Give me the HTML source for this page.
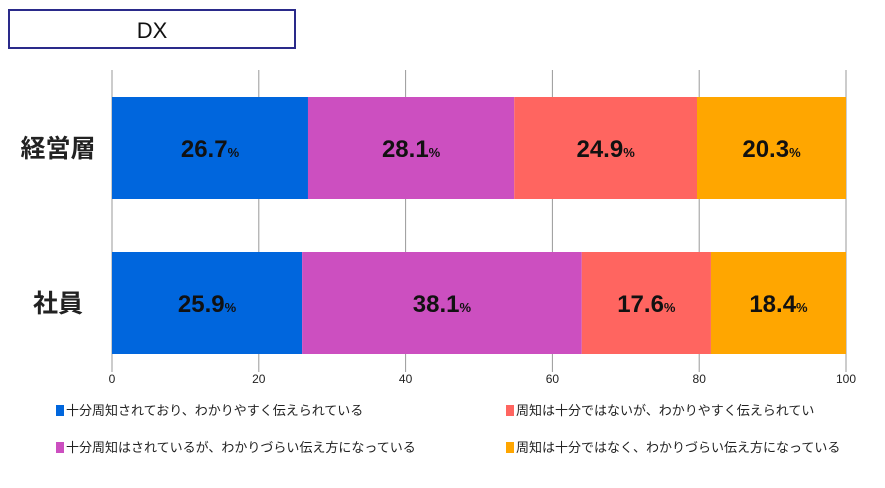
<!DOCTYPE html>
<html><head><meta charset="utf-8"><style>
body{margin:0;background:#fff;width:885px;height:483px;overflow:hidden;font-family:"Liberation Sans","Noto Sans CJK JP",sans-serif}
</style></head><body>
<svg width="885" height="483" id="c">
<rect x="9" y="10" width="286" height="38" fill="#fff" stroke="#2a2a8a" stroke-width="2"/>
<text x="152" y="38" text-anchor="middle" font-size="22" fill="#111">DX</text>
</svg>
<script>
const categories=["経営層","社員"];
const s1=[26.7,25.9];
const s2=[28.1,38.1];
const s3=[24.9,17.6];
const s4=[20.3,18.4];
const ticks=[0,20,40,60,80,100];
const seriesNames=["十分周知されており、わかりやすく伝えられている","十分周知はされているが、わかりづらい伝え方になっている","周知は十分ではないが、わかりやすく伝えられてい","周知は十分ではなく、わかりづらい伝え方になっている"];
const colors=["#0066dd","#cc4fc0","#ff6560","#ffa600"];
const svg=document.getElementById('c');const NS="http://www.w3.org/2000/svg";
const x=v=>112+v*(846-112)/100;
const yTop=[97,252];const bh=102;
function mk(t,a){const e=document.createElementNS(NS,t);for(const k in a)e.setAttribute(k,a[k]);svg.appendChild(e);return e;}
ticks.forEach(t=>{
const l=mk('line',{x1:x(t),x2:x(t),y1:70,y2:372,stroke:'#999','stroke-width':1});


const tx=mk('text',{x:x(t),y:383,'text-anchor':'middle','font-size':12,fill:'#222'});tx.textContent=t;


});
const series=[s1,s2,s3,s4];
categories.forEach((c,i)=>{
const lb=mk('text',{x:58,y:yTop[i]+bh/2+9,'text-anchor':'middle','font-size':25,'font-weight':'bold',fill:'#222'});lb.textContent=c;


let acc=0;
series.forEach((s,j)=>{
const v=s[i];
const r=mk('rect',{x:x(acc),y:yTop[i],width:x(acc+v)-x(acc),height:bh,fill:colors[j]});


const t=mk('text',{x:(x(acc)+x(acc+v))/2,y:yTop[i]+bh/2+9,'text-anchor':'middle','font-size':24,'font-weight':'bold',fill:'#111'});
t.innerHTML=v.toFixed(1)+'<tspan font-size="13">%</tspan>';


acc+=v;});
});
const lp=[[56,415],[56,452],[506,415],[506,452]];
seriesNames.forEach((n,j)=>{
const r=mk('rect',{x:lp[j][0],y:lp[j][1]-10,width:8,height:11,fill:colors[j]});


const t=mk('text',{x:lp[j][0]+10,y:lp[j][1],'font-size':13,fill:'#222'});t.textContent=n;


});
</script>
</body></html>
